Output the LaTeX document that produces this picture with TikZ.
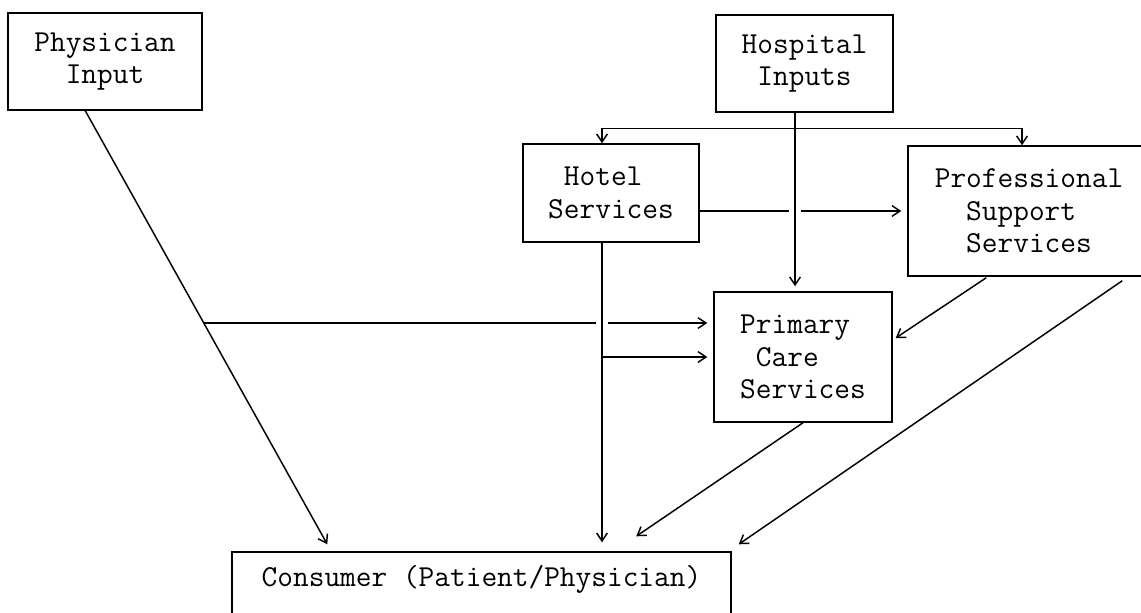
\documentclass[tikz,border=0pt]{standalone}
\usepackage{fontspec}
\usetikzlibrary{arrows.meta,calc}
\begin{document}
\begin{tikzpicture}[x=0.75pt,y=-0.75pt,
  box/.style={draw, line width=1.1pt, font=\fontsize{22.86pt}{24.4pt}\selectfont\ttfamily,
    align=left, inner sep=0pt},
  conn/.style={line width=1.1pt},
  arr/.style={conn, -{Straight Barb[length=6pt,width=8pt,line width=1.1pt]}},
  arrb/.style={conn, {Straight Barb[length=6pt,width=8pt,line width=1.1pt]}-{Straight Barb[length=6pt,width=8pt,line width=1.1pt]}}]
\useasboundingbox (0,0) rectangle (1141,613);
\clip (0,0) rectangle (1141,613);
% boxes
\node[box, minimum width=145.5pt, minimum height=72.75pt] (phys) at (105,61.5) {Physician\\\ \ Input};
\node[box, minimum width=132.75pt, minimum height=72.75pt] (hosp) at (804.5,63.5) {Hospital\\\ Inputs};
\node[box, minimum width=132pt, minimum height=73.5pt] (hotel) at (611,193) {\ Hotel\\Services};
\node[box, minimum width=181.5pt, minimum height=97.5pt] (prof) at (1029,211) {Professional\\\ \ Support\\\ \ Services};
\node[box, minimum width=133.5pt, minimum height=97.5pt] (prim) at (803,357) {Primary\\\ Care\\Services};
\node[box, minimum width=374.25pt, minimum height=58.5pt, text height=17.25pt, text depth=24.75pt] (cons) at (481.5,591) {Consumer (Patient/Physician)};
% helper coordinates
\coordinate (ps) at ($(phys.south west)+(78,0)$);
\coordinate (pe) at ($(cons.north west)+(96,-7)$);
\coordinate (pb) at ($(ps)!0.4897!(pe)$);
\coordinate (hv) at ($(hotel.south)+(-9,0)$);
\coordinate (ho) at ($(hotel.east)+(0,18)$);
\coordinate (hs) at ($(hosp.south)+(-9.5,0)$);
\coordinate (hb) at ($(hs)+(0,16)$);
\coordinate (pt) at ($(prof.north)+(-7,0)$);
% physician
\draw[arr] (ps) -- (pe);
\draw[conn] (pb) -- ($(hv |- pb)+(-6,0)$);
\draw[arr] ($(hv |- pb)+(6,0)$) -- ($(prim.west |- pb)+(-6,0)$);
% hotel
\draw[arr] (hv) -- ($(hv |- cons.north)+(0,-9)$);
\draw[arr] (hv |- prim.west) -- ($(prim.west)+(-6,0)$);
\draw[conn] (ho) -- ($(hs |- ho)+(-6,0)$);
\draw[arr] ($(hs |- ho)+(6,0)$) -- ($(prof.west |- ho)+(-6,0)$);
% hospital
\draw[arr] (hs) -- ($(hs |- prim.north)+(0,-5)$);
\draw[arrb] (hv |- hotel.north) -- (hv |- hb) -- (pt |- hb) -- (pt);
% professional
\draw[arr] ($(prof.south west)+(79,1)$) -- ($(prim.east)+(3,-19)$);
\draw[arr] ($(prof.south west)+(215,4)$) -- ($(cons.north east)+(7,-7)$);
% primary
\draw[arr] (prim.south) -- ($(cons.north west)+(405,-15)$);
\end{tikzpicture}
\end{document}
